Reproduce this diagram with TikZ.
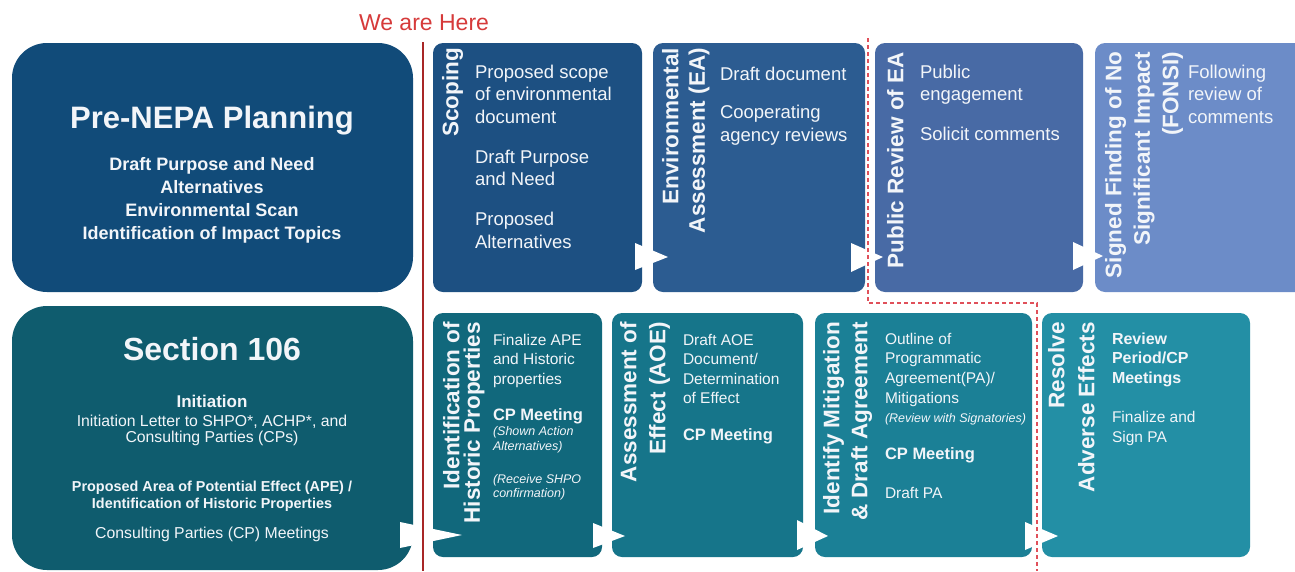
\documentclass[tikz,border=0pt]{standalone}
\usepackage{fontspec}
\setmainfont{Liberation Sans}
\usetikzlibrary{calc}
\definecolor{cPre}{HTML}{114B79}
\definecolor{cScop}{HTML}{1D5082}
\definecolor{cEA}{HTML}{2C5C91}
\definecolor{cPub}{HTML}{486AA5}
\definecolor{cFon}{HTML}{6C8CC8}
\definecolor{cSec}{HTML}{0F5C6E}
\definecolor{cId}{HTML}{11687C}
\definecolor{cAoe}{HTML}{16758A}
\definecolor{cMit}{HTML}{1B8096}
\definecolor{cRes}{HTML}{238FA5}
\definecolor{boxtext}{HTML}{F2F5F9}
\definecolor{hereRed}{HTML}{D63A3A}
\definecolor{lineRed}{HTML}{A82626}
\definecolor{dashRed}{HTML}{E0505A}
\newcommand\fs[2]{\fontsize{#1}{#2}\selectfont}
\begin{document}
\begin{tikzpicture}[x=1pt,y=-1pt,
  bigbox/.style={rounded corners=35pt, minimum width=401pt, inner sep=0pt, outer sep=0pt},
  smallbox/.style={rounded corners=10pt, inner sep=0pt, outer sep=0pt},
  txt/.style={text=boxtext, inner sep=0pt, outer sep=0pt},
  body/.style={txt, anchor=north west, align=left},
  vtitle/.style={txt, rotate=90, anchor=north east, align=right},
  flowtip/.style={fill=white},
  redline/.style={draw=lineRed, line width=1.5pt},
  dashline/.style={draw=dashRed, line width=1.2pt, dash pattern=on 4pt off 3pt}
]
\useasboundingbox (0,0) rectangle (1295,571);
\clip (0,0) rectangle (1295,571);
\fill[white] (0,0) rectangle (1295,571);

% boxes
\node[bigbox, fill=cPre, minimum height=249pt] (pre) at (212.5,167.5) {};
\node[bigbox, fill=cSec, minimum height=264pt] (sec) at (212.5,438) {};
\node[smallbox, fill=cScop, minimum width=209pt, minimum height=249pt] (scop) at (537.5,167.5) {};
\node[smallbox, fill=cEA, minimum width=212pt, minimum height=249pt] (ea) at (759,167.5) {};
\node[smallbox, fill=cPub, minimum width=208pt, minimum height=249pt] (pub) at (979,167.5) {};
\node[smallbox, fill=cFon, minimum width=215pt, minimum height=249pt] (fon) at (1202.5,167.5) {};
\node[smallbox, fill=cId, minimum width=169pt, minimum height=244pt] (idb) at (517.5,435) {};
\node[smallbox, fill=cAoe, minimum width=191pt, minimum height=244pt] (aoe) at (707.5,435) {};
\node[smallbox, fill=cMit, minimum width=217pt, minimum height=244pt] (mit) at (923.5,435) {};
\node[smallbox, fill=cRes, minimum width=208pt, minimum height=244pt] (res) at (1146,435) {};

% Pre-NEPA text
\node[txt, anchor=base, font=\bfseries\fs{31}{36}] (preT) at (212,128) {Pre-NEPA Planning};
\node[txt, anchor=north, align=center, font=\bfseries\fs{18}{23}] (preB) at (212,157) {Draft Purpose and Need\\Alternatives\\Environmental Scan\\Identification of Impact Topics};

% Section 106 text
\node[txt, anchor=base, font=\bfseries\fs{32}{36}] (secT) at (212,360) {Section 106};
\node[txt, anchor=base, font=\bfseries\fs{17}{20}] (secI) at (212,407) {Initiation};
\node[txt, anchor=north, align=center, font=\fs{15.8}{16}] (secL) at (212,414.6) {Initiation Letter to SHPO*, ACHP*, and\\Consulting Parties (CPs)};
\node[txt, anchor=north, align=center, font=\bfseries\fs{14.4}{17}] (secP) at (212,480.6) {Proposed Area of Potential Effect (APE) /\\Identification of Historic Properties};
\node[txt, anchor=base, font=\fs{15.8}{18}] (secC) at (212,538) {Consulting Parties (CP) Meetings};

% rotated titles
\node[vtitle, font=\bfseries\fs{22.5}{26}] (scopT) at (442,48) {Scoping};
\node[vtitle, font=\bfseries\fs{22.5}{26.5}] (eaT) at (662,48) {Environmental\\Assessment (EA)};
\node[vtitle, font=\bfseries\fs{22.5}{26}] (pubT) at (887,52) {Public Review of EA};
\node[vtitle, font=\bfseries\fs{22.5}{28.5}] (fonT) at (1105,52) {Signed Finding of No\\Significant Impact\\(FONSI)};
\node[vtitle, font=\bfseries\fs{22.5}{20.5}] (idT) at (443,322) {Identification of\\Historic Properties};
\node[vtitle, font=\bfseries\fs{22.5}{29}] (aoeT) at (620,322) {Assessment of\\Effect (AOE)};
\node[vtitle, font=\bfseries\fs{22.5}{28}] (mitT) at (823,322) {Identify Mitigation\\\& Draft Agreement};
\node[vtitle, font=\bfseries\fs{22.5}{30}] (resT) at (1048,322) {Resolve\\Adverse Effects};

% top row body text
\node[body, font=\fs{18.5}{22.5}] (scopB) at (475,64.7) {Proposed scope\\of environmental\\document\\[17.5pt]Draft Purpose\\and Need\\[17.5pt]Proposed\\Alternatives};
\node[body, font=\fs{18.5}{23}] (eaB) at (720,66.7) {Draft document\\[15pt]Cooperating\\agency reviews};
\node[body, font=\fs{18.5}{22.5}] (pubB) at (920,64.7) {Public\\engagement\\[17.5pt]Solicit comments};
\node[body, font=\fs{18.5}{22.5}] (fonB) at (1188,64.7) {Following\\review of\\comments};

% bottom row body text
\node[body, font=\fs{15.5}{19.7}] (idB1) at (493,333.8) {Finalize APE\\and Historic\\properties};
\node[body, font=\bfseries\fs{16.5}{19}] (idB2) at (493,408.8) {CP Meeting};
\node[body, font=\itshape\fs{12.5}{14.3}] (idB3) at (493,426.9) {(Shown Action\\Alternatives)};
\node[body, font=\itshape\fs{12.5}{14.3}] (idB4) at (493,474.6) {(Receive SHPO\\confirmation)};

\node[body, font=\fs{15.5}{19.5}] (aoeB1) at (683,333.8) {Draft AOE\\Document/\\Determination\\of Effect};
\node[body, font=\bfseries\fs{16.5}{19}] (aoeB2) at (683,428.1) {CP Meeting};

\node[body, font=\fs{15.5}{19.7}] (mitB1) at (885,332.8) {Outline of\\Programmatic\\Agreement(PA)/\\Mitigations};
\node[body, font=\itshape\fs{12.5}{14.3}] (mitB2) at (885,413.9) {(Review with Signatories)};
\node[body, font=\bfseries\fs{16.5}{19}] (mitB3) at (885,447.1) {CP Meeting};
\node[body, font=\fs{15.5}{19}] (mitB4) at (885,486.8) {Draft PA};

\node[body, font=\bfseries\fs{16}{19.5}] (resB1) at (1112,332.5) {Review\\Period/CP\\Meetings};
\node[body, font=\fs{15.5}{20}] (resB2) at (1112,410.8) {Finalize and\\Sign PA};

% flow arrows
\fill[flowtip] ($(scop.south east)+(-7,-49)$) -- ($(ea.south west)+(15,-35)$) -- ($(scop.south east)+(-7,-22)$) -- cycle;
\fill[flowtip] ($(ea.south east)+(-14,-49)$) -- ($(pub.south west)+(8,-35)$) -- ($(ea.south east)+(-14,-20)$) -- cycle;
\fill[flowtip] ($(pub.south east)+(-10,-50)$) -- ($(fon.south west)+(8,-36)$) -- ($(pub.south east)+(-10,-22)$) -- cycle;
\fill[flowtip] ($(sec.south east)+(-13,-48)$) -- ($(idb.south west)+(29,-22)$) -- ($(sec.south east)+(-13,-22)$) -- cycle;
\fill[flowtip] ($(idb.south east)+(-9,-34)$) -- ($(aoe.south west)+(13,-21)$) -- ($(idb.south east)+(-9,-9)$) -- cycle;
\fill[flowtip] ($(aoe.south east)+(-6,-37)$) -- ($(mit.south west)+(13,-21)$) -- ($(aoe.south east)+(-6,-7)$) -- cycle;
\fill[flowtip] ($(mit.south east)+(-7,-35)$) -- ($(res.south west)+(16,-21)$) -- ($(mit.south east)+(-7,-7)$) -- cycle;

% We are here
\node[anchor=base, text=hereRed, inner sep=0pt, font=\fs{23}{25}] (here) at (424,30) {We are Here};
\coordinate (redtop) at (423,42);
\coordinate (redbot) at (423,571);
\draw[redline] (redtop) -- (redbot);

\coordinate (d1) at (868,38);
\coordinate (d2) at (868,303);
\coordinate (d3) at (1037,303);
\coordinate (d4) at (1037,571);
\draw[dashline] (d1) -- (d2) -- (d3) -- (d4);
\end{tikzpicture}
\end{document}
